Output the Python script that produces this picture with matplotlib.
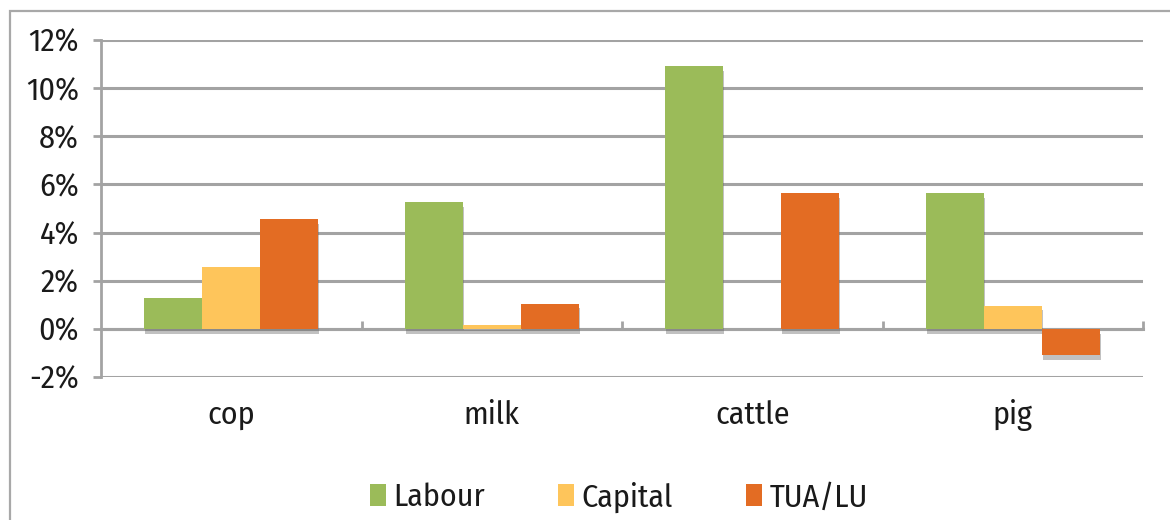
import matplotlib
matplotlib.use("Agg")
import matplotlib.pyplot as plt
import matplotlib.patheffects as pe
from matplotlib.patches import Rectangle
import numpy as np

plt.rcParams['font.family'] = ['Fira Sans Condensed', 'Carlito', 'DejaVu Sans']

categories = ["cop", "milk", "cattle", "pig"]
series_names = ["Labour", "Capital", "TUA/LU"]
labour = [1.3, 5.25, 10.9, 5.65]
capital = [2.55, 0.15, 0.0, 0.97]
tua_lu = [4.55, 1.05, 5.65, -1.1]
y_ticks = [-2, 0, 2, 4, 6, 8, 10, 12]
y_tick_labels = ["-2%", "0%", "2%", "4%", "6%", "8%", "10%", "12%"]

colors = ["#9BBB59", "#FEC55B", "#E36C23"]
grid_gray = "#A3A3A3"
text_color = "#1A1A1A"
FS = 23

W, H = 1170, 520
fig = plt.figure(figsize=(W / 100, H / 100), dpi=100)
fig.patch.set_facecolor("white")

# outer chart frame
fig.patches.append(Rectangle((10 / W, -0.01), 1.02, 1 - 11 / H + 0.01,
                             transform=fig.transFigure, fill=False,
                             edgecolor="#A8A8A8", linewidth=1.6, zorder=0))

ax = fig.add_axes([101 / W, 1 - 377 / H, (1143 - 101) / W, (377 - 40) / H])
ax.set_xlim(-0.5, 3.5)
ax.set_ylim(-2, 12)

x = np.arange(len(categories))
bw = 0.223
shadow = [pe.SimplePatchShadow(offset=(0.8, -3.5), shadow_rgbFace="#666666", alpha=0.4),
          pe.Normal()]
for k, (vals, c, name) in enumerate(zip([labour, capital, tua_lu], colors, series_names)):
    bars = ax.bar(x + (k - 1) * bw, vals, width=bw, color=c, label=name, zorder=3,
                  linewidth=0)
    for b in bars:
        if b.get_height() != 0:
            b.set_path_effects(shadow)

# horizontal gridlines
ax.set_yticks(y_ticks)
ax.set_yticklabels(y_tick_labels, fontsize=FS, color=text_color)
ax.yaxis.grid(True, color=grid_gray, linewidth=2.2, zorder=1)
ax.set_axisbelow(True)
ax.tick_params(axis="y", length=6, width=2, color=grid_gray, pad=10)

# category axis on the zero line
for s in ["top", "right"]:
    ax.spines[s].set_visible(False)
ax.spines["left"].set_color(grid_gray)
ax.spines["left"].set_linewidth(2)
ax.spines["bottom"].set_position(("data", 0))
ax.spines["bottom"].set_color(grid_gray)
ax.spines["bottom"].set_linewidth(2.2)
ax.spines["bottom"].set_zorder(2)
ax.set_xticks([0.5, 1.5, 2.5, 3.5])
ax.set_xticklabels([])
ax.tick_params(axis="x", direction="in", length=6, width=2, color=grid_gray)

for i, cat in enumerate(categories):
    ax.text(i, -0.113, cat, transform=ax.get_xaxis_transform(), ha="center",
            va="center", fontsize=FS, color=text_color)

leg = fig.legend(loc="center", bbox_to_anchor=(0.529, 1 - 497 / H), ncol=3,
                 frameon=False, fontsize=FS, handlelength=0.5, handleheight=0.69,
                 handletextpad=0.22, columnspacing=2.3, labelcolor=text_color)
for h in leg.legend_handles:
    h.set_path_effects([])

fig.savefig("out.png", dpi=100, facecolor="white")
